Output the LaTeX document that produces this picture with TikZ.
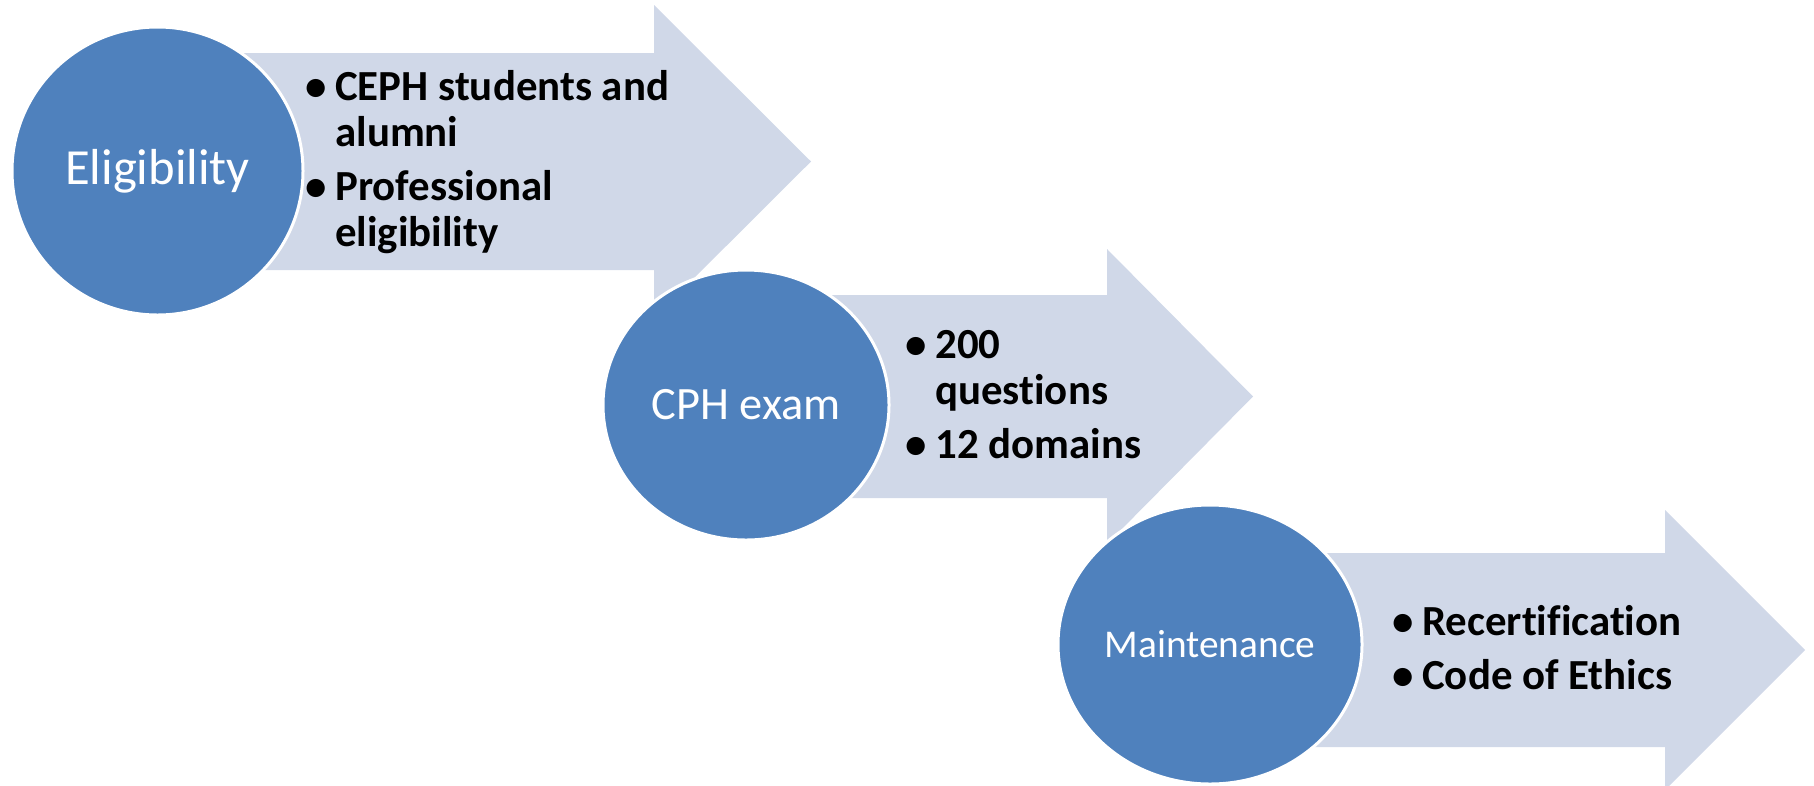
\documentclass[tikz,border=0pt]{standalone}
\usepackage{fontspec}
\setmainfont{Carlito}[Ligatures=NoCommon]
\usetikzlibrary{shapes.geometric}
\definecolor{stageblue}{RGB}{79,129,189}
\definecolor{bandgray}{RGB}{208,216,232}
\newcommand{\dotmark}{\makebox[7.5mm][l]{\textbullet}}
\begin{document}
\begin{tikzpicture}[x=0.25mm, y=-0.25mm,
    stage/.style={ellipse, fill=stageblue, draw=white, line width=0.75mm, inner sep=0pt, text=white},
    band/.style={fill=bandgray},
    items/.style={anchor=base west, inner sep=0pt, font=\bfseries\fontsize{30.5}{11.5mm}\selectfont}
]
    \useasboundingbox (0,0) rectangle (1814,785);
    \clip (0,0) rectangle (1814,785);

    % Arrows
    \fill[band] (157,53) -- (654,53) -- (654,5) -- (811,161.5) -- (654,318) -- (654,270) -- (157,270) -- cycle;
    \fill[band] (746,295) -- (1107,295) -- (1107,249) -- (1253,396.5) -- (1107,544) -- (1107,498) -- (746,498) -- cycle;
    \fill[band] (1210,553) -- (1665,553) -- (1665,510) -- (1805,650) -- (1665,790) -- (1665,747) -- (1210,747) -- cycle;

    % Stages
    \node[stage, minimum width=72.75mm, minimum height=72mm, font=\fontsize{36}{43}\selectfont] (eligibility) at (157.5,171) {Eligibility};
    \node[stage, minimum width=71.5mm, minimum height=67.5mm, font=\fontsize{33}{40}\selectfont] (cph_exam) at (746,405) {CPH exam};
    \node[stage, minimum width=76mm, minimum height=69.75mm, font=\fontsize{28}{34}\selectfont] (maintenance) at (1210,644.5) {Maintenance};

    % Bullet lists
    \node[items] (eligibility_items) at (305,100) {\begin{tabular}[t]{@{}l@{}l@{}}
        \dotmark & CEPH students and\\
                 & alumni\\[2mm]
        \dotmark & Professional\\
                 & eligibility
    \end{tabular}};
    \node[items] (exam_items) at (905,358) {\begin{tabular}[t]{@{}l@{}l@{}}
        \dotmark & 200\\
                 & questions\\[2mm]
        \dotmark & 12 domains
    \end{tabular}};
    \node[items] (maintenance_items) at (1392,635) {\begin{tabular}[t]{@{}l@{}l@{}}
        \dotmark & Recertification\\[2mm]
        \dotmark & Code of Ethics
    \end{tabular}};
\end{tikzpicture}
\end{document}
